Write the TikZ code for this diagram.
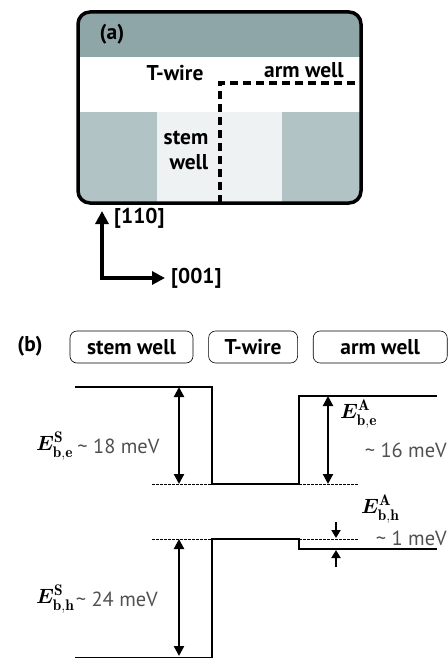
\documentclass[tikz,border=0pt]{standalone}
\usepackage{amsmath,amssymb,bm}
\usepackage{fontspec}
\setsansfont{PT Sans}
\usetikzlibrary{arrows.meta,positioning,calc}
\definecolor{slate}{HTML}{8FA6A9}
\definecolor{slatelt}{HTML}{B2C3C6}
\definecolor{paleblue}{HTML}{EEF2F3}
\definecolor{lbl}{HTML}{505050}

\begin{document}
\begin{tikzpicture}[x=1bp,y=-1bp,
   hd/.style={font=\sffamily\bfseries\fontsize{21.5}{25}\selectfont,inner sep=2bp},
   pill/.style={hd,draw,line width=0.6bp,rounded corners=7bp,minimum height=32bp,inner sep=0pt},
   axis/.style={line width=3.2bp,line join=miter,
                {Triangle[width=13bp,length=13bp]}-{Triangle[width=13bp,length=13bp]}},
   band/.style={line width=1.3bp},
   lvl/.style={line width=0.9bp,dash pattern=on 3bp off 1bp},
   gap/.style={line width=2.2bp,{Triangle[width=10bp,length=10bp]}-{Triangle[width=10bp,length=10bp]}},
   nudge/.style={line width=2bp,-{Triangle[width=9bp,length=8bp]}},
   sym/.style={font=\fontsize{22}{24}\selectfont,inner sep=0pt},
   mev/.style={font=\sffamily\fontsize{20.5}{22}\selectfont,text=lbl,inner sep=0pt}]
  \useasboundingbox (0,0) rectangle (448,659);

  % (a) cross section
  \begin{scope}
    \clip[rounded corners=12bp] (78,12) rectangle (361,203);
    \fill[slate] (78,12) rectangle (361,57);
    \fill[white] (78,57) rectangle (361,112);
    \fill[slatelt] (78,112) rectangle (157,203);
    \fill[paleblue] (157,112) rectangle (282,203);
    \fill[slatelt] (282,112) rectangle (361,203);
  \end{scope}
  \draw[line width=3.2bp,dash pattern=on 8bp off 5bp] (220,203) -- (220,83) -- (361,83);
  \draw[line width=3.5bp,rounded corners=12bp] (78,12) rectangle (361,203);

  \node[hd] (tagA) at (112,34) {(a)};
  \node[hd] (wireA) at (175,73) {T-wire};
  \node[hd] (armA) at (304,70) {arm well};
  \node[hd,align=right] (stemA) at (186,150) {stem\\well};

  % crystal axes
  \coordinate (orig) at (102,278);
  \coordinate (up) at (102,211);
  \coordinate (rt) at (165,278);
  \draw[axis] (up) -- (orig) -- (rt);
  \node[hd,anchor=west] (d110) at (112,218) {[110]};
  \node[hd,anchor=west,right=4bp of rt] (d001) {[001]};

  % (b) band profile
  \node[hd] (tagB) at (30,346) {(b)};
  \node[pill,minimum width=123bp] (stemB) at (131.5,347) {stem well};
  \node[pill,minimum width=89bp,right=15bp of stemB] (wireB) {T-wire};
  \node[pill,minimum width=134bp,right=15bp of wireB] (armB) {arm well};

  % conduction band
  \draw[band] (75,387) -- (212,387) -- (212,484) -- (299,484) -- (299,396) -- (437,396);
  \draw[lvl] (152,484) -- (212,484) (299,484) -- (358,484);
  \coordinate (cS1) at (179,387);
  \coordinate (cS2) at (179,484);
  \coordinate (cA1) at (328,396);
  \coordinate (cA2) at (328,484);
  \draw[gap] (cS1) -- (cS2);
  \draw[gap] (cA1) -- (cA2);

  % valence band
  \draw[band] (75,657.5) -- (212,657.5) -- (212,539) -- (299,539) -- (299,549) -- (437,549);
  \draw[lvl] (152,539) -- (212,539) (299,539) -- (358,539);
  \coordinate (vS1) at (179,539);
  \coordinate (vS2) at (179,656);
  \draw[gap] (vS1) -- (vS2);
  \coordinate (vA0) at (336,522);
  \coordinate (vA1) at (336,538);
  \coordinate (vA2) at (336,550);
  \coordinate (vA3) at (336,567);
  \draw[nudge] (vA0) -- (vA1);
  \draw[nudge] (vA3) -- (vA2);

  % gap labels
  \node[sym,anchor=west] (EcS) at (36,446) {$\boldsymbol{E}^{\mathbf{S}}_{\mathbf{b,e}}$};
  \node[mev,right=4bp of EcS] (EcSv) {\textasciitilde{} 18 meV};
  \node[sym,anchor=west] (EcA) at (340,414) {$\boldsymbol{E}^{\mathbf{A}}_{\mathbf{b,e}}$};
  \node[mev,anchor=east] (EcAv) at (447,450) {\textasciitilde{} 16 meV};
  \node[sym,anchor=west] (EhA) at (361,509) {$\boldsymbol{E}^{\mathbf{A}}_{\mathbf{b,h}}$};
  \node[mev,anchor=east] (EhAv) at (447,538) {\textasciitilde{} 1 meV};
  \node[sym,anchor=west] (EhS) at (36,599) {$\boldsymbol{E}^{\mathbf{S}}_{\mathbf{b,h}}$};
  \node[mev,right=1bp of EhS] (EhSv) {\textasciitilde{} 24 meV};
\end{tikzpicture}
\end{document}
